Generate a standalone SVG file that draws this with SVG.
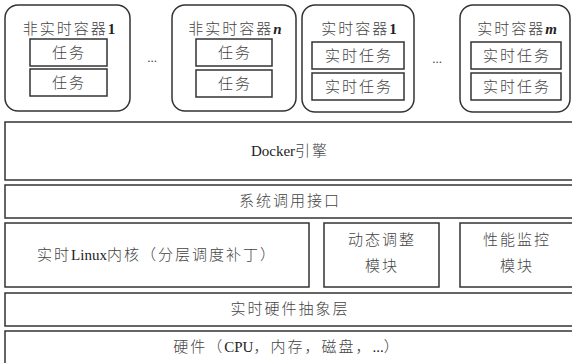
<svg xmlns="http://www.w3.org/2000/svg" width="572" height="363" viewBox="0 0 572 363">
<style>
.c{fill:#fff;stroke:#333;stroke-width:1.5}
.b{fill:#fff;stroke:#333;stroke-width:1.5}
text{font-family:"Liberation Serif","Noto Sans CJK SC",serif;font-size:15px;fill:#444;font-weight:300;text-anchor:middle;letter-spacing:2px}
.l{letter-spacing:0;fill:#222;font-weight:normal}
.d{letter-spacing:0;font-size:13px}
.i{font-style:italic;font-weight:bold;letter-spacing:0;fill:#222}
.n{font-weight:bold;letter-spacing:0;fill:#222}
</style>
<rect width="572" height="363" fill="#fff"/>
<g id="nrt1">
<rect class="c" x="5" y="5" width="125" height="106" rx="13"/>
<text x="69" y="34">非实时容器<tspan class="n">1</tspan></text>
<rect class="b" x="30" y="39" width="77" height="27"/>
<text x="69" y="58">任务</text>
<rect class="b" x="30" y="69" width="77" height="27"/>
<text x="69" y="88">任务</text>
</g>
<text class="d" x="152" y="62">...</text>
<g id="nrtn">
<rect class="c" x="172" y="5" width="124" height="106" rx="13"/>
<text x="235" y="34">非实时容器<tspan class="i">n</tspan></text>
<rect class="b" x="196" y="39" width="76" height="27"/>
<text x="235" y="58">任务</text>
<rect class="b" x="196" y="70" width="76" height="27"/>
<text x="235" y="89">任务</text>
</g>
<g id="rt1">
<rect class="c" x="302" y="5" width="112" height="107" rx="13"/>
<text x="359" y="34">实时容器<tspan class="n">1</tspan></text>
<rect class="b" x="312" y="42" width="92" height="27"/>
<text x="359" y="61">实时任务</text>
<rect class="b" x="312" y="73" width="92" height="27"/>
<text x="359" y="92">实时任务</text>
</g>
<text class="d" x="437" y="63">...</text>
<g id="rtm">
<rect class="c" x="460" y="5" width="110" height="107" rx="13"/>
<text x="517" y="34">实时容器<tspan class="i">m</tspan></text>
<rect class="b" x="471" y="42" width="90" height="27"/>
<text x="517" y="61">实时任务</text>
<rect class="b" x="471" y="73" width="90" height="27"/>
<text x="517" y="92">实时任务</text>
</g>
<g id="docker">
<rect class="b" x="5" y="122" width="572" height="58"/>
<text x="290" y="156"><tspan class="l">Docker</tspan>引擎</text>
</g>
<g id="syscall">
<rect class="b" x="5" y="185" width="572" height="33"/>
<text x="290" y="206">系统调用接口</text>
</g>
<g id="kernel">
<rect class="b" x="5" y="223" width="304" height="64"/>
<text x="157" y="260">实时<tspan class="l">Linux</tspan>内核（分层调度补丁）</text>
</g>
<g id="dyn">
<rect class="b" x="324" y="223" width="115" height="64"/>
<text x="382" y="245">动态调整</text>
<text x="382" y="271">模块</text>
</g>
<g id="perf">
<rect class="b" x="460" y="223" width="117" height="64"/>
<text x="517" y="245">性能监控</text>
<text x="517" y="271">模块</text>
</g>
<g id="hal">
<rect class="b" x="5" y="293" width="572" height="33"/>
<text x="290" y="314">实时硬件抽象层</text>
</g>
<g id="hw">
<rect class="b" x="5" y="331" width="572" height="40"/>
<text x="287" y="352">硬件（<tspan class="l">CPU</tspan>，内存，磁盘，<tspan class="l">...</tspan>）</text>
</g>
<g id="connectors"></g>
</svg>
